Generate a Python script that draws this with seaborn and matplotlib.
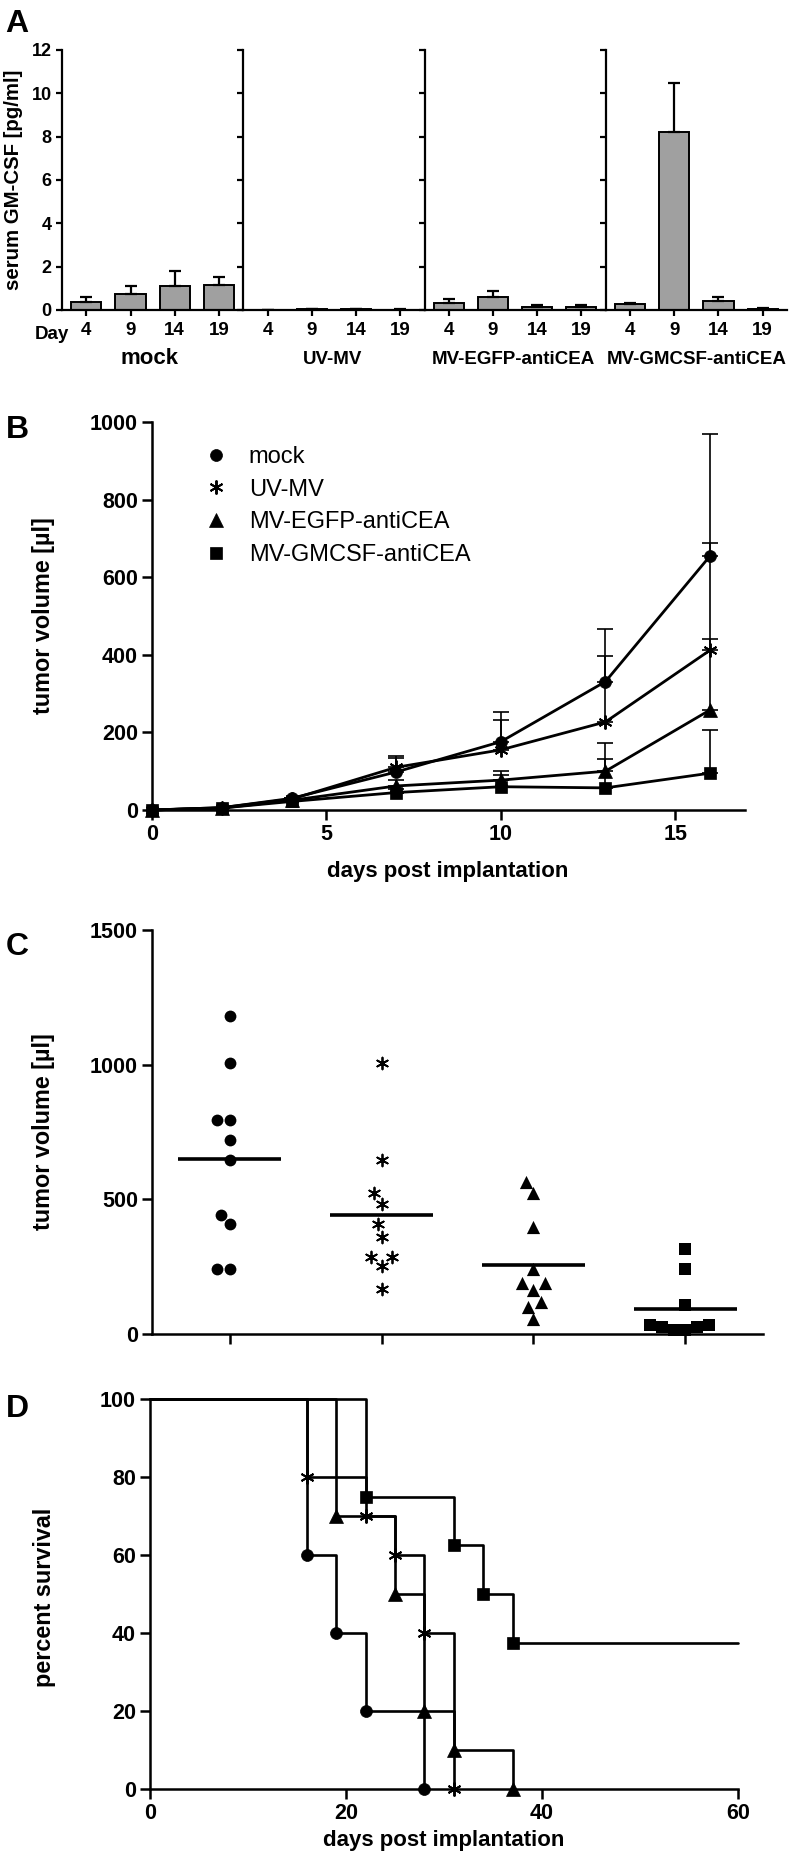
import numpy as np
import matplotlib
matplotlib.use('Agg')
import matplotlib.pyplot as plt
import seaborn as sns
from matplotlib.lines import Line2D

# ---- data ----
groups = ['mock', 'UV-MV', 'MV-EGFP-antiCEA', 'MV-GMCSF-antiCEA']

# A: serum GM-CSF [pg/ml] per sampling day
days_a = ['4', '9', '14', '19']
gm_mock = [0.38, 0.74, 1.10, 1.15]
gm_mock_err = [0.20, 0.36, 0.70, 0.38]
gm_uv = [0.00, 0.03, 0.03, 0.02]
gm_uv_err = [0.00, 0.01, 0.01, 0.01]
gm_egfp = [0.34, 0.58, 0.15, 0.15]
gm_egfp_err = [0.15, 0.29, 0.08, 0.08]
gm_gmcsf = [0.26, 8.20, 0.43, 0.05]
gm_gmcsf_err = [0.08, 2.30, 0.18, 0.06]

# B: tumor volume over time
days_b = [0, 2, 4, 7, 10, 13, 16]
vol_mock = [0, 6, 30, 98, 176, 331, 655]
vol_mock_err = [0, 0, 0, 37, 77, 135, 315]
vol_uv = [0, 6, 28, 110, 155, 227, 412]
vol_uv_err = [0, 0, 0, 28, 77, 170, 276]
vol_egfp = [0, 5, 25, 62, 77, 100, 258]
vol_egfp_err = [0, 0, 0, 15, 24, 73, 182]
vol_gmcsf = [0, 5, 22, 45, 60, 57, 95]
vol_gmcsf_err = [0, 0, 0, 10, 30, 74, 111]

# C: individual tumor volumes at day 16
c_mock = [1180, 1005, 796, 796, 720, 645, 441, 410, 243, 243]
c_uv = [1005, 645, 525, 481, 410, 361, 287, 287, 254, 167]
c_egfp = [563, 522, 399, 240, 191, 191, 164, 120, 101, 56]
c_gmcsf = [317, 243, 109, 34, 27, 15, 15, 27, 34]

# D: survival (Kaplan-Meier steps)
km_mock_t = [0, 16, 19, 22, 28]
km_mock = [100, 60, 40, 20, 0]
km_uv_t = [0, 16, 22, 25, 28, 31]
km_uv = [100, 80, 70, 60, 40, 0]
km_egfp_t = [0, 19, 25, 28, 31, 37]
km_egfp = [100, 70, 50, 20, 10, 0]
km_gmcsf_t = [0, 22, 31, 34, 37, 60]
km_gmcsf = [100, 75, 62.5, 50, 37.5, 37.5]

# ---- style ----
sns.set_theme(style='ticks')
plt.rcParams['font.family'] = ['Liberation Sans', 'DejaVu Sans']
plt.rcParams.update({
    'font.weight': 'bold',
    'axes.edgecolor': 'black', 'axes.labelcolor': 'black', 'text.color': 'black',
    'xtick.color': 'black', 'ytick.color': 'black',
    'axes.linewidth': 1.8,
})

W, H = 792, 1861
fig = plt.figure(figsize=(W / 100, H / 100), dpi=100)


def box(l, t, r, b):
    return [l / W, 1 - b / H, (r - l) / W, (b - t) / H]


def ftext(x, y, s, **kw):
    fig.text(x / W, 1 - y / H, s, **kw)


marks = ['o', (6, 2, 0), '^', 's']

# ---- A ----
A_L, A_R, A_T, A_B = 62, 787, 50, 310
aw = (A_R - A_L) / 4
a_means = [gm_mock, gm_uv, gm_egfp, gm_gmcsf]
a_errs = [gm_mock_err, gm_uv_err, gm_egfp_err, gm_gmcsf_err]
a_centers = [150, 333, 513, 697]
for i in range(4):
    ax = fig.add_axes(box(A_L + i * aw, A_T, A_L + (i + 1) * aw, A_B))
    sns.barplot(x=days_a, y=a_means[i], order=days_a, color='#a0a0a0', saturation=1,
                edgecolor='black', linewidth=1.4, width=0.68, errorbar=None, ax=ax)
    ax.errorbar(range(4), a_means[i], yerr=[np.zeros(4), a_errs[i]], fmt='none',
                ecolor='black', elinewidth=1.6, capsize=4.5, capthick=1.6, zorder=3)
    ax.set_xlim(-0.55, 3.55)
    ax.set_ylim(0, 12)
    ax.set_yticks(range(0, 13, 2))
    ax.set_xlabel('')
    ax.set_ylabel('')
    sns.despine(ax=ax)
    ax.spines['left'].set_linewidth(1.6)
    ax.spines['bottom'].set_linewidth(1.6)
    ax.tick_params(direction='out', length=4.5, width=1.6, labelsize=13, pad=3)
    ax.tick_params(axis='x', labelsize=13.5, pad=4)
    if i > 0:
        ax.tick_params(axis='y', labelleft=False)
    fs = 16 if i == 0 else 13.5
    ftext(a_centers[i], 364, groups[i], ha='center', va='baseline', fontsize=fs)
ftext(52, 339, 'Day', ha='center', va='baseline', fontsize=13.5)
ftext(14, 180, 'serum GM-CSF [pg/ml]', rotation=90, ha='center', va='center', fontsize=14.7)

# ---- B ----
ax = fig.add_axes(box(152, 422, 745, 810))
b_vals = [vol_mock, vol_uv, vol_egfp, vol_gmcsf]
b_errs = [vol_mock_err, vol_uv_err, vol_egfp_err, vol_gmcsf_err]
b_ms = [8.6, 10, 9.5, 8.2]
for i in range(4):
    ax.errorbar(days_b, b_vals[i], yerr=[np.zeros(7), b_errs[i]], fmt='none',
                ecolor='black', elinewidth=1.2, capsize=6, capthick=1.2, zorder=2)
    sns.lineplot(x=days_b, y=b_vals[i], color='black', lw=2.0, marker=marks[i],
                 markersize=b_ms[i], markeredgecolor='black',
                 markeredgewidth=1.4 if i == 1 else 0.5, ax=ax, clip_on=False, zorder=3)
ax.set_xlim(0, 17)
ax.set_ylim(0, 1000)
ax.set_xticks([0, 5, 10, 15])
ax.set_yticks(range(0, 1001, 200))
sns.despine(ax=ax)
ax.tick_params(direction='out', length=7, width=1.8, labelsize=15.5, pad=3)
handles = [Line2D([], [], ls='none', marker=marks[i], color='black', markersize=b_ms[i],
                  markeredgewidth=1.4 if i == 1 else 0.5) for i in range(4)]
ax.legend(handles, groups, loc='upper left', bbox_to_anchor=(204 / W, 1 - 446 / H),
          bbox_transform=fig.transFigure, frameon=False, borderpad=0, borderaxespad=0,
          handlelength=1.0, handletextpad=0.9, labelspacing=0.45,
          prop={'weight': 'normal', 'size': 17})
ftext(44, 616, 'tumor volume [µl]', rotation=90, ha='center', va='center', fontsize=16.8)
ftext(448, 877, 'days post implantation', ha='center', va='baseline', fontsize=16)
ftext(17, 438, 'B', ha='center', va='baseline', fontsize=23)

# ---- C ----
ax = fig.add_axes(box(152, 930, 763, 1334))
c_vals = [c_mock, c_uv, c_egfp, c_gmcsf]
c_size = [8.5, 8.5, 9.5, 8.2]
for i in range(4):
    star = i == 1
    sns.swarmplot(x=[groups[i]] * len(c_vals[i]), y=c_vals[i], order=groups, marker=marks[i],
                  color='black', size=c_size[i], linewidth=1.3 if star else 0,
                  edgecolor='black', ax=ax, clip_on=False, zorder=3)
    ax.hlines(np.mean(c_vals[i]), i - 0.34, i + 0.34, color='black', lw=2.6, zorder=4)
ax.set_xlim(-0.51, 3.51)
ax.set_ylim(0, 1500)
ax.set_yticks([0, 500, 1000, 1500])
ax.set_xticks(range(4))
ax.set_xticklabels([])
ax.set_xlabel('')
ax.set_ylabel('')
sns.despine(ax=ax)
ax.tick_params(direction='out', length=7, width=1.8, labelsize=15.5, pad=3)
ftext(44, 1132, 'tumor volume [µl]', rotation=90, ha='center', va='center', fontsize=16.8)
ftext(17, 955, 'C', ha='center', va='baseline', fontsize=23)

# ---- D ----
ax = fig.add_axes(box(150, 1399, 738, 1789))
km_t = [km_mock_t, km_uv_t, km_egfp_t, km_gmcsf_t]
km_s = [km_mock, km_uv, km_egfp, km_gmcsf]
d_ms = [8.6, 10, 9.5, 8.6]
for i in range(4):
    sns.lineplot(x=km_t[i], y=km_s[i], color='black', lw=1.9, drawstyle='steps-post',
                 ax=ax, clip_on=False, zorder=2)
    n_end = len(km_t[i]) - 1 if i == 3 else len(km_t[i])
    ax.plot(km_t[i][1:n_end], km_s[i][1:n_end], ls='none', marker=marks[i], color='black',
            markersize=d_ms[i], markeredgewidth=1.4 if i == 1 else 0.5, clip_on=False, zorder=3)
ax.set_xlim(0, 60)
ax.set_ylim(0, 100)
ax.set_xticks([0, 20, 40, 60])
ax.set_yticks(range(0, 101, 20))
sns.despine(ax=ax)
ax.tick_params(direction='out', length=7, width=1.8, labelsize=15.5, pad=3)
ftext(45, 1597, 'percent survival', rotation=90, ha='center', va='center', fontsize=16.8)
ftext(444, 1846, 'days post implantation', ha='center', va='baseline', fontsize=16)
ftext(17, 1417, 'D', ha='center', va='baseline', fontsize=23)

ftext(17, 32, 'A', ha='center', va='baseline', fontsize=23)

fig.savefig('out.png', dpi=100)
